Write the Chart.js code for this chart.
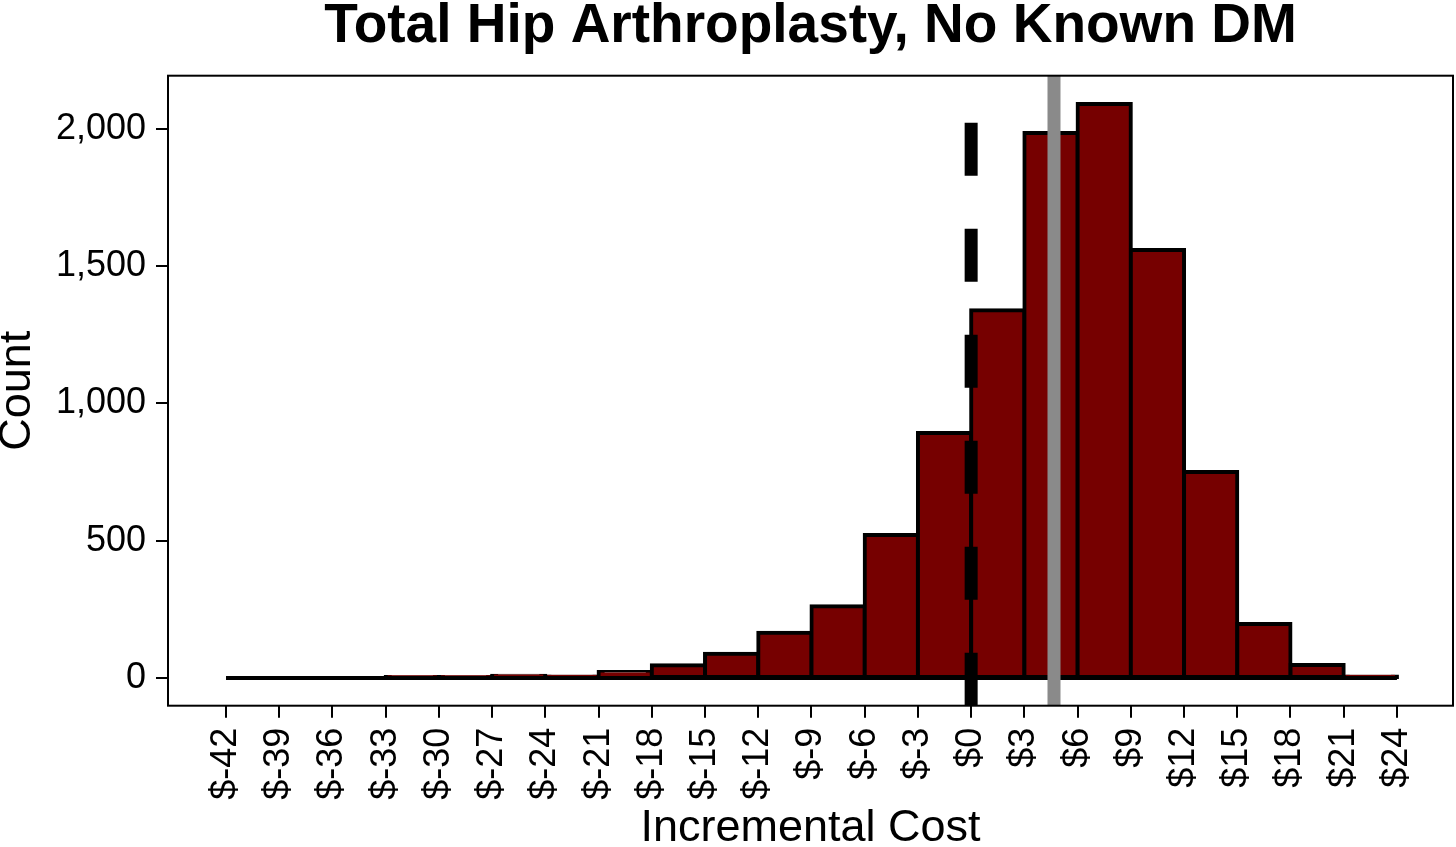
<!DOCTYPE html>
<html>
<head>
<meta charset="utf-8">
<script src="https://cdn.jsdelivr.net/npm/chart.js@4.4.1/dist/chart.umd.min.js"></script>
<style>
  html, body { margin: 0; padding: 0; background: #fff; }
  #wrap { width: 1456px; height: 847px; }
</style>
</head>
<body>
<div id="wrap"><canvas id="c" width="1456" height="847"></canvas></div>
<script>
// ---- data ----
const chartTitle = "Total Hip Arthroplasty, No Known DM";
const xTitle = "Incremental Cost";
const yTitle = "Count";
const binEdges = [-42, -39, -36, -33, -30, -27, -24, -21, -18, -15, -12, -9, -6, -3, 0, 3, 6, 9, 12, 15, 18, 21, 24];
const binCounts = [0, 0, 0, 1, 2, 8, 5, 22, 46, 88, 165, 261, 521, 892, 1340, 1985, 2091, 1559, 750, 197, 47, 5];
const xTickValues = [-42, -39, -36, -33, -30, -27, -24, -21, -18, -15, -12, -9, -6, -3, 0, 3, 6, 9, 12, 15, 18, 21, 24];
const xTickLabels = ["$-42", "$-39", "$-36", "$-33", "$-30", "$-27", "$-24", "$-21", "$-18", "$-15", "$-12", "$-9", "$-6", "$-3", "$0", "$3", "$6", "$9", "$12", "$15", "$18", "$21", "$24"];
const yTickValues = [0, 500, 1000, 1500, 2000];
const yTickLabels = ["0", "500", "1,000", "1,500", "2,000"];
const zeroCost = 0;
const meanCost = 4.67;
const xRange = [-45.27, 27.16];
const yRange = [-101, 2194];

// ---- build datasets ----
const barData = binCounts.map((c, i) => ({ x: (binEdges[i] + binEdges[i + 1]) / 2, y: c }));
const baselineData = [{ x: binEdges[0], y: 0 }, { x: binEdges[binEdges.length - 1], y: 0 }];
const zeroLineData = [{ x: zeroCost, y: yRange[0] }, { x: zeroCost, y: yRange[1] }];
const meanLineData = [{ x: meanCost, y: yRange[0] }, { x: meanCost, y: yRange[1] }];

const FONT = "'Liberation Sans', Arial, Helvetica, sans-serif";

const boxPlugin = {
  id: 'panelBox',
  afterDraw(chart) {
    const { ctx, chartArea: a } = chart;
    ctx.save();
    ctx.strokeStyle = '#000';
    ctx.lineWidth = 2;
    ctx.strokeRect(a.left, a.top, a.right - a.left, a.bottom - a.top);
    ctx.restore();
  }
};

new Chart(document.getElementById('c'), {
  type: 'bar',
  data: {
    datasets: [
      {
        type: 'bar',
        data: barData,
        backgroundColor: '#760000',
        borderColor: '#000',
        borderWidth: 4,
        borderSkipped: false,
        inflateAmount: 2,
        barPercentage: 1,
        categoryPercentage: 1,
        order: 3
      },
      {
        type: 'line',
        data: baselineData,
        borderColor: '#000',
        borderWidth: 4,
        pointRadius: 0,
        order: 2
      },
      {
        type: 'line',
        data: zeroLineData,
        borderColor: '#000',
        borderWidth: 13,
        borderDash: [53, 53],
        borderCapStyle: 'butt',
        pointRadius: 0,
        order: 1
      },
      {
        type: 'line',
        data: meanLineData,
        borderColor: '#8a8a8a',
        borderWidth: 13,
        borderCapStyle: 'butt',
        pointRadius: 0,
        order: 0
      }
    ]
  },
  options: {
    responsive: false,
    animation: false,
    devicePixelRatio: 1,
    layout: { padding: { left: 0, right: 3, top: 0, bottom: 0 } },
    plugins: {
      legend: { display: false },
      tooltip: { enabled: false },
      title: {
        display: true,
        text: chartTitle,
        fullSize: false,
        color: '#000',
        font: { family: FONT, size: 55, weight: 'bold', lineHeight: 0.9 },
        padding: { top: 2, bottom: 24.2 }
      }
    },
    scales: {
      x: {
        type: 'linear',
        min: xRange[0],
        max: xRange[1],
        offset: false,
        afterBuildTicks: (s) => { s.ticks = xTickValues.map(v => ({ value: v })); },
        afterFit: (s) => { s.height = 847 - 705.7; },
        ticks: {
          autoSkip: false,
          minRotation: 90,
          maxRotation: 90,
          padding: 10,
          color: '#000',
          font: { family: FONT, size: 36 },
          callback: (v) => { const i = xTickValues.indexOf(v); return i >= 0 ? xTickLabels[i] : ''; }
        },
        grid: {
          display: true,
          drawOnChartArea: false,
          drawTicks: true,
          tickLength: 12,
          color: '#000',
          lineWidth: 2,
          offset: false
        },
        border: { display: false },
        title: {
          display: true,
          text: xTitle,
          color: '#000',
          font: { family: FONT, size: 45, lineHeight: 0.8 },
          padding: { top: 0, bottom: 0 }
        }
      },
      y: {
        type: 'linear',
        min: yRange[0],
        max: yRange[1],
        afterBuildTicks: (s) => { s.ticks = yTickValues.map(v => ({ value: v })); },
        afterFit: (s) => { s.width = 168; },
        ticks: {
          padding: 10,
          color: '#000',
          font: { family: FONT, size: 36 },
          callback: (v) => { const i = yTickValues.indexOf(v); return i >= 0 ? yTickLabels[i] : ''; }
        },
        grid: {
          display: true,
          drawOnChartArea: false,
          drawTicks: true,
          tickLength: 12,
          color: '#000',
          lineWidth: 2
        },
        border: { display: false },
        title: {
          display: true,
          text: yTitle,
          color: '#000',
          font: { family: FONT, size: 45, lineHeight: 0.8 },
          padding: { top: 0, bottom: 0 }
        }
      }
    }
  },
  plugins: [boxPlugin]
});
</script>
</body>
</html>
